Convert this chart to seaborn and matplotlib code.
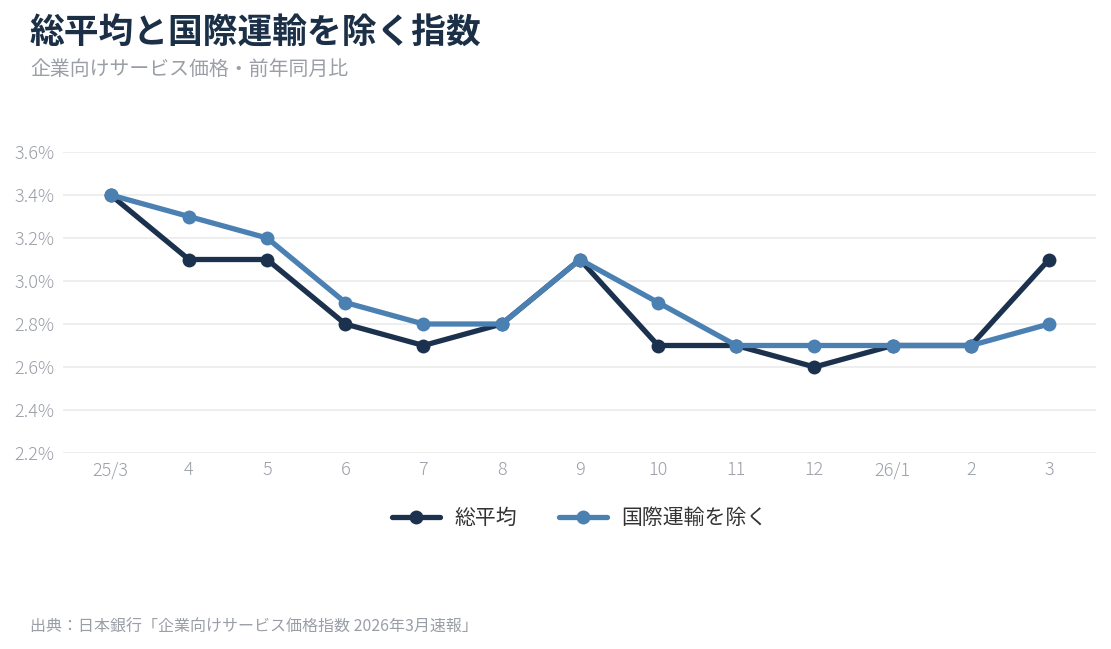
import pandas as pd
import seaborn as sns
import matplotlib.pyplot as plt
from matplotlib.ticker import FuncFormatter

months = ['25/3', '4', '5', '6', '7', '8', '9', '10', '11', '12', '26/1', '2', '3']
total_avg = [3.4, 3.1, 3.1, 2.8, 2.7, 2.8, 3.1, 2.7, 2.7, 2.6, 2.7, 2.7, 3.1]
ex_intl = [3.4, 3.3, 3.2, 2.9, 2.8, 2.8, 3.1, 2.9, 2.7, 2.7, 2.7, 2.7, 2.8]
series_names = ['総平均', '国際運輸を除く']
colors = ['#1b314d', '#4b80b3']

df = pd.DataFrame({
    'pos': list(range(len(months))) * 2,
    'value': total_avg + ex_intl,
    'series': [series_names[0]] * len(months) + [series_names[1]] * len(months),
})

sns.set_theme(style='white')
plt.rcParams['font.family'] = ['Noto Sans CJK JP', 'DejaVu Sans']

fig = plt.figure(figsize=(11.11, 6.49), dpi=100)
ax = fig.add_axes([63 / 1111, 1 - 453 / 649, (1096 - 63) / 1111, (453 - 152) / 649])

sns.lineplot(data=df, x='pos', y='value', hue='series', hue_order=series_names,
             palette=colors, marker='o', markersize=10, markeredgewidth=0,
             linewidth=3.8, ax=ax, legend=True)

ax.set_ylim(2.2, 3.6)
ax.set_xlim(-0.61, 12.6)
ax.set_yticks([2.2, 2.4, 2.6, 2.8, 3.0, 3.2, 3.4, 3.6])
ax.yaxis.set_major_formatter(FuncFormatter(lambda v, p: f'{v:.1f}%'))
ax.set_xticks(range(len(months)))
ax.set_xticklabels(months)
ax.set_xlabel('')
ax.set_ylabel('')
ax.grid(axis='y', color='#ebebeb', linewidth=1.2)
ax.set_axisbelow(True)
for s in ax.spines.values():
    s.set_visible(False)
ax.tick_params(axis='both', length=0, labelsize=13, labelcolor='#9a9ea6', pad=6)
for lab in ax.get_xticklabels() + ax.get_yticklabels():
    lab.set_fontweight('light')

leg = ax.legend(loc='center', bbox_to_anchor=(0.5, 1 - (518 - 152) / (453 - 152)),
                ncol=2, frameon=False, fontsize=15, handlelength=2.3,
                columnspacing=2.0, handletextpad=0.7)
for t in leg.get_texts():
    t.set_color('#333333')

fig.text(30 / 1111, 1 - 33 / 649, '総平均と国際運輸を除く指数', fontsize=25,
         fontweight='bold', color='#1b2f47', va='center', ha='left')
fig.text(30 / 1111, 1 - 69 / 649, '企業向けサービス価格・前年同月比', fontsize=14.3,
         color='#9a9ea6', va='center', ha='left')
fig.text(30 / 1111, 1 - 627 / 649, '出典：日本銀行「企業向けサービス価格指数 2026年3月速報」',
         fontsize=11.5, color='#9a9ea6', va='center', ha='left')

fig.savefig('out.png', dpi=100)
